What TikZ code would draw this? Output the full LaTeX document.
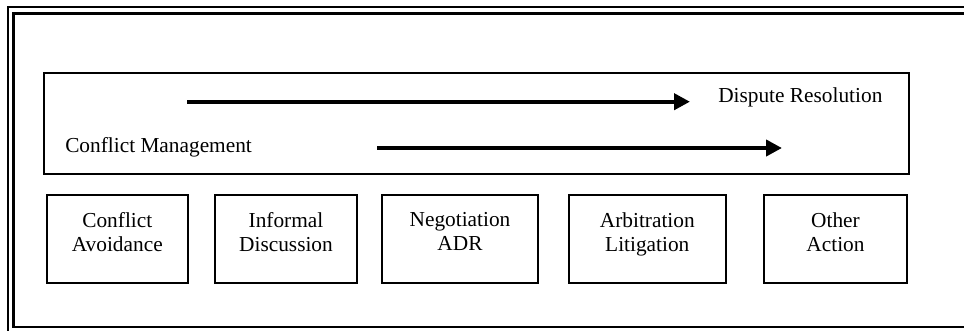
\documentclass[tikz,border=0pt]{standalone}
\usepackage{fontspec}
\setmainfont{Liberation Serif}
\usetikzlibrary{arrows.meta}
\begin{document}
\begin{tikzpicture}[x=0.75pt,y=-0.75pt,
  txt/.style={font=\fontsize{16}{18}\selectfont, inner sep=0pt},
  frame/.style={draw, line width=1.5pt, minimum width=#1, minimum height=66pt, inner sep=0pt},
  boxlbl/.style={txt, align=center, anchor=north},
  flow/.style={line width=3pt, -{Triangle[length=12pt,width=12pt]}}]
\useasboundingbox (0,0) rectangle (964,330);
% page border: thin outer rule, heavier inner rule
\draw[line width=1.5pt] (7.5,340) -- (7.5,7) -- (975,7);
\draw[line width=2.2pt] (975,327) -- (13.5,327) -- (13.5,13.5) -- (975,13.5);
% band holding the two flows
\node[draw, line width=1.5pt, inner sep=0pt,
      minimum width=648.75pt, minimum height=75.75pt] (band) at (476.5,123) {};
\node[txt, anchor=base west] (dr) at (718,102.7) {Dispute Resolution};
\node[txt, anchor=base west] (cm) at (65,152) {Conflict Management};
\coordinate (a1s) at (187,101.7);
\coordinate (a1e) at (690,101.7);
\coordinate (a2s) at (377,148);
\coordinate (a2e) at (782,148);
\draw[flow] (a1s) -- (a1e);
\draw[flow] (a2s) -- (a2e);
% stages
\node[frame=106pt] (b1) at (117.3,239) {};
\node[frame=106.5pt] (b2) at (286,239) {};
\node[frame=117pt] (b3) at (460,239) {};
\node[frame=117.5pt] (b4) at (647.3,239) {};
\node[frame=107.25pt] (b5) at (835.5,239) {};
\node[boxlbl] (t1) at (117.3,212) {Conflict\\Avoidance};
\node[boxlbl] (t2) at (286,212) {Informal\\Discussion};
\node[boxlbl] (t3) at (460,212) {Negotiation\\ADR};
\node[boxlbl] (t4) at (647.3,212) {Arbitration\\Litigation};
\node[boxlbl] (t5) at (835.5,212) {Other\\Action};
\end{tikzpicture}
\end{document}
